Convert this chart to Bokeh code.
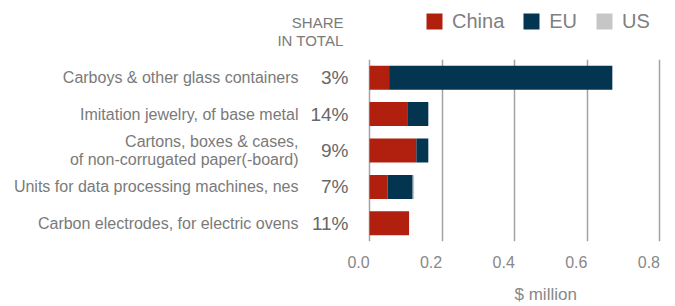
from bokeh.plotting import figure
from bokeh.layouts import column
from bokeh.models import (ColumnDataSource, Legend, LegendItem, FactorRange, Label,
                          Range1d, FixedTicker, CategoricalAxis, LinearAxis,
                          NumeralTickFormatter)
from bokeh.embed import file_html
from bokeh.resources import INLINE

categories = [
    "Carboys & other glass containers",
    "Imitation jewelry, of base metal",
    "Cartons, boxes & cases,\nof non-corrugated paper(-board)",
    "Units for data processing machines, nes",
    "Carbon electrodes, for electric ovens",
]
shares = ["3%", "14%", "9%", "7%", "11%"]
share_header = ["SHARE\nIN TOTAL"]
china = [0.054, 0.104, 0.129, 0.050, 0.109]
eu = [0.615, 0.058, 0.033, 0.069, 0.0]
us = [0.0, 0.0, 0.0, 0.004, 0.0]
series = ["China", "EU", "US"]
colors = ["#B1200E", "#033551", "#C6C6C6"]
ticks = [0.0, 0.2, 0.4, 0.6, 0.8]
x_title = "$ million"

FONT = "Liberation Sans"
TXT = "#7a7a7a"

# layout constants (pixels)
W, H = 675, 306
HEAD = 53
FRAME_LEFT = 354          # left edge of plotting frame
ZERO_PAD = 15             # gap between frame edge and the zero line
PX_PER_UNIT = 363.0
TOP, BOTTOM = 6, 63
LABEL_SHIFT_PX = 11       # tick labels end at their gridline
TITLE_SHIFT_PX = 61       # moves the axis title right of the frame centre
HEADER_RIGHT_PX = 343     # right edge of the "share" column heading

x_start = -ZERO_PAD / PX_PER_UNIT
x_end = x_start + (W - FRAME_LEFT) / PX_PER_UNIT
shift = LABEL_SHIFT_PX / PX_PER_UNIT


def style_axis(ax, size, color, standoff):
    ax.axis_line_color = None
    ax.major_tick_line_color = None
    ax.minor_tick_line_color = None
    ax.major_tick_out = 0
    ax.major_tick_in = 0
    ax.major_label_standoff = standoff
    ax.major_label_text_font = FONT
    ax.major_label_text_font_size = size
    ax.major_label_text_color = color


# ---------- header: legend + column heading ----------
head = figure(width=W, height=HEAD,
              y_range=FactorRange(factors=share_header, range_padding=0),
              x_range=Range1d(x_start, x_end),
              x_axis_location=None, y_axis_location=None,
              output_backend="svg", toolbar_location=None,
              min_border_left=FRAME_LEFT, min_border_right=0,
              min_border_top=9, min_border_bottom=0)
head.outline_line_color = None
head.grid.visible = False
dummies = [head.hbar(y=share_header, right=[0], height=0.66, color=c, line_color=None)
           for c in colors]

legend = Legend(items=[LegendItem(label=s, renderers=[r]) for s, r in zip(series, dummies)],
                orientation="horizontal", location=(424 - FRAME_LEFT, HEAD - 32.5))
legend.border_line_color = None
legend.background_fill_alpha = 0
legend.padding = 0
legend.margin = 0
legend.spacing = 17
legend.label_standoff = 8
legend.glyph_width = 20
legend.glyph_height = 20
legend.label_text_font = FONT
legend.label_text_font_size = "20px"
legend.label_text_color = "#808080"
legend.label_text_baseline = "middle"
head.add_layout(legend)

head.add_layout(Label(x=x_start + (HEADER_RIGHT_PX - FRAME_LEFT) / PX_PER_UNIT, y=0.5,
                      x_units="data", y_units="data",
                      text=share_header[0], text_align="right", text_baseline="middle",
                      text_font=FONT, text_font_size="15px", text_color=TXT,
                      text_line_height=1.05), "left")

# ---------- main chart ----------
src = ColumnDataSource(dict(cat=categories, share=shares, China=china, EU=eu, US=us))

p = figure(width=W, height=H - HEAD,
           y_range=FactorRange(factors=list(reversed(categories)), range_padding=0),
           x_range=Range1d(x_start, x_end),
           x_axis_location=None, y_axis_location=None,
           output_backend="svg", toolbar_location=None,
           min_border_left=FRAME_LEFT, min_border_right=0,
           min_border_top=TOP, min_border_bottom=BOTTOM)
p.outline_line_color = None
p.extra_y_ranges = {"share": FactorRange(factors=list(reversed(shares)), range_padding=0)}
p.extra_x_ranges = {"lab": Range1d(x_start + shift, x_end + shift)}

rends = p.hbar_stack(series, y="cat", height=0.66, color=colors, source=src,
                     line_color=None)

p.ygrid.visible = False
p.xgrid.ticker = FixedTicker(ticks=ticks)
p.xgrid.grid_line_color = "#a3a3a3"
p.xgrid.grid_line_width = 1.5

share_axis = CategoricalAxis(y_range_name="share")
style_axis(share_axis, "19px", "#686868", 369 - FRAME_LEFT - ZERO_PAD + 6)
cat_axis = CategoricalAxis()
style_axis(cat_axis, "16px", TXT, 9)
cat_axis.major_label_text_line_height = 1.1
p.add_layout(share_axis, "left")
p.add_layout(cat_axis, "left")

nbsp_count = round(TITLE_SHIFT_PX / (0.278 * 17))
xa = LinearAxis(x_range_name="lab", ticker=FixedTicker(ticks=ticks),
                formatter=NumeralTickFormatter(format="0.0"))
style_axis(xa, "16px", "#888888", 14)
xa.axis_label = "\u00a0" * nbsp_count + x_title
xa.axis_label_standoff = 14
xa.axis_label_text_font = FONT
xa.axis_label_text_font_size = "17px"
xa.axis_label_text_font_style = "normal"
xa.axis_label_text_color = "#888888"
p.add_layout(xa, "below")

layout = column(head, p, spacing=0)
open("out.html", "w").write(file_html(layout, INLINE))
